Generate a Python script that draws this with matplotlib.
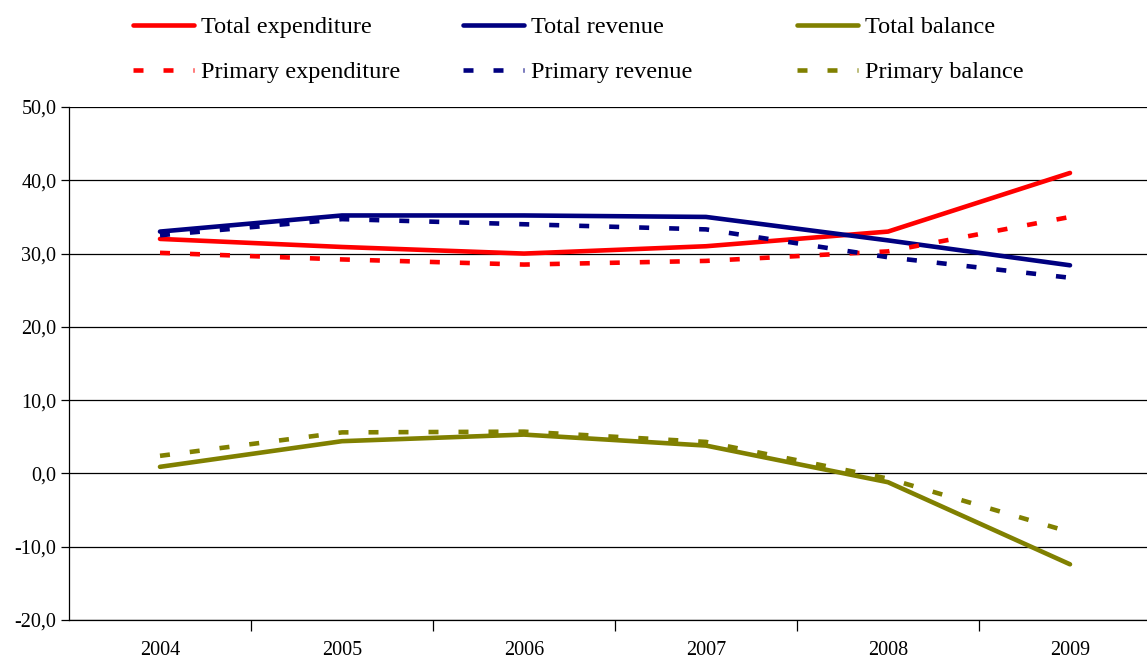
import matplotlib
matplotlib.use("Agg")
import matplotlib.pyplot as plt
from matplotlib.ticker import FuncFormatter, FixedLocator

plt.rcParams['font.family'] = ['Liberation Serif', 'DejaVu Serif']
plt.rcParams['lines.scale_dashes'] = False

years = ["2004", "2005", "2006", "2007", "2008", "2009"]
total_expenditure = [32.0, 30.9, 30.0, 31.0, 33.0, 41.0]
total_revenue = [33.0, 35.2, 35.2, 35.0, 31.8, 28.4]
total_balance = [0.9, 4.4, 5.3, 3.8, -1.2, -12.4]
primary_expenditure = [30.1, 29.2, 28.5, 29.0, 30.3, 35.0]
primary_revenue = [32.5, 34.7, 34.0, 33.3, 29.5, 26.7]
primary_balance = [2.4, 5.6, 5.7, 4.3, -0.7, -8.0]

RED = "#FF0000"
NAVY = "#000080"
OLIVE = "#808000"

W, H = 1147, 660
fig = plt.figure(figsize=(W / 100, H / 100), dpi=100)
left_px, right_px, top_px, bot_px = 69, 1161, 107, 620
ax = fig.add_axes([left_px / W, 1 - bot_px / H, (right_px - left_px) / W, (bot_px - top_px) / H])

x = list(range(len(years)))
lw = 3.3
dash = (7.2, 14.4)
series = [
    (total_expenditure, RED, "-", "Total expenditure"),
    (total_revenue, NAVY, "-", "Total revenue"),
    (total_balance, OLIVE, "-", "Total balance"),
    (primary_expenditure, RED, "--", "Primary expenditure"),
    (primary_revenue, NAVY, "--", "Primary revenue"),
    (primary_balance, OLIVE, "--", "Primary balance"),
]
lines = {}
for vals, col, ls, lab in series:
    if ls == "-":
        ln, = ax.plot(x, vals, color=col, lw=lw, solid_capstyle="round", solid_joinstyle="round", label=lab, zorder=3)
    else:
        ln, = ax.plot(x, vals, color=col, lw=lw, dashes=dash, dash_capstyle="butt", label=lab, zorder=3)
    lines[lab] = ln

ax.set_xlim(-0.5, len(years) - 0.5)
ax.set_ylim(-20, 50)
ax.set_yticks(range(-20, 51, 10))
ax.yaxis.set_major_formatter(FuncFormatter(lambda v, p: f"{v:.1f}".replace(".", ",")))
ax.grid(axis="y", color="black", lw=0.9)
ax.set_axisbelow(True)

ax.set_xticks(x)
ax.set_xticklabels(years)
ax.xaxis.set_minor_locator(FixedLocator([i + 0.5 for i in range(len(years))]))
ax.tick_params(axis="x", which="major", length=0, pad=15, labelsize=14.5)
ax.tick_params(axis="x", which="minor", length=8, width=0.9, direction="out", color="black")
ax.tick_params(axis="y", which="major", length=6, width=0.9, direction="out", pad=3, labelsize=14.5)

for s in ["top", "right"]:
    ax.spines[s].set_visible(False)
for s in ["left", "bottom"]:
    ax.spines[s].set_linewidth(0.9)
    ax.spines[s].set_color("black")

# legend: three columns, each with two rows
cols = [("Total expenditure", "Primary expenditure", 133),
        ("Total revenue", "Primary revenue", 463),
        ("Total balance", "Primary balance", 797)]
for a, b, xp in cols:
    fig.legend([lines[a], lines[b]], [a, b], loc="upper left",
               bbox_to_anchor=(xp / W, 1 - 16 / H), frameon=False,
               fontsize=17.5, handlelength=2.5, handletextpad=0.3,
               labelspacing=0.95, borderpad=0, borderaxespad=0)

fig.savefig("out.png", dpi=100)
